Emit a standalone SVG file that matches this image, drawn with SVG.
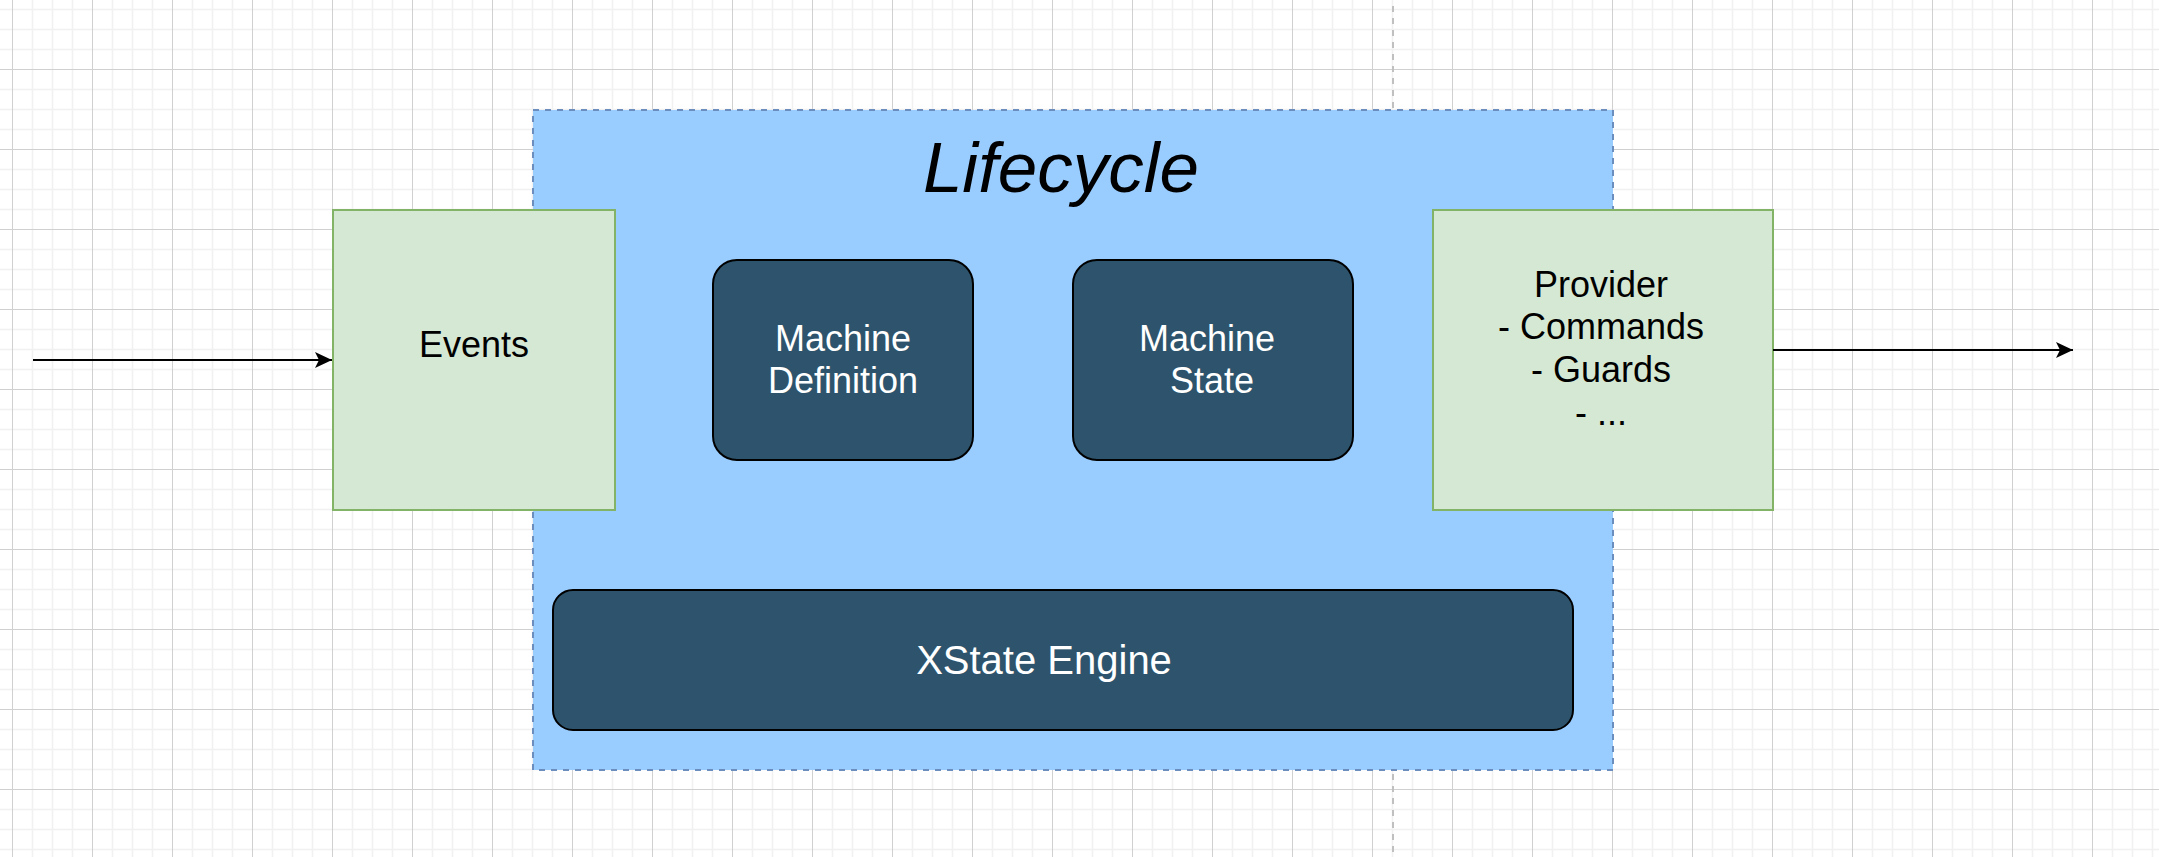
<svg xmlns="http://www.w3.org/2000/svg" width="2159" height="857" viewBox="0 0 2159 857">
  <defs>
    <pattern id="grid" patternUnits="userSpaceOnUse" x="12" y="-11" width="80" height="80">
      <rect width="80" height="80" fill="#ffffff"/>
      <path d="M20.5 0V80M40.5 0V80M60.5 0V80M0 20.5H80M0 40.5H80M0 60.5H80" stroke="#f1f1f1" stroke-width="1.5" fill="none"/>
      <path d="M0.5 0V80M0 0.5H80" stroke="#d0d0d0" stroke-width="1" fill="none"/>
    </pattern>
    <marker id="arrow" markerUnits="userSpaceOnUse" markerWidth="20" markerHeight="20" viewBox="0 0 20 20" refX="18" refY="10" orient="auto">
      <path d="M1 2 L18 10 L1 18 L5 10 Z" fill="#000000"/>
    </marker>
    <style>
      .txt { font-family: "Liberation Sans", Arial, sans-serif; text-anchor: middle; }
      .green { fill: #d5e8d4; stroke: #82b366; stroke-width: 2; }
      .dark { fill: #2d546c; stroke: #000000; stroke-width: 2; }
      .white { fill: #ffffff; font-size: 36px; }
      .black { fill: #000000; font-size: 36px; }
      .conn { stroke: #000000; stroke-width: 2; fill: none; marker-end: url(#arrow); }
    </style>
  </defs>
  <rect x="0" y="0" width="2159" height="857" fill="url(#grid)"/>
  <line x1="1393" y1="6" x2="1393" y2="857" stroke="#c0c0c0" stroke-width="2" stroke-dasharray="6 6"/>

  <g id="lifecycle">
    <rect x="533" y="110" width="1080" height="660" fill="#99ccff" stroke="#6c8ebf" stroke-width="2" stroke-dasharray="6 6"/>
    <text class="txt" x="1061" y="192" font-size="71" font-style="italic" fill="#000000">Lifecycle</text>
  </g>

  <g id="events">
    <rect class="green" x="333" y="210" width="282" height="300"/>
    <text class="txt black" x="474" y="357">Events</text>
  </g>

  <g id="machine-definition">
    <rect class="dark" x="713" y="260" width="260" height="200" rx="24" ry="24"/>
    <text class="txt white" x="843" y="351">Machine</text>
    <text class="txt white" x="843" y="393">Definition</text>
  </g>

  <g id="machine-state">
    <rect class="dark" x="1073" y="260" width="280" height="200" rx="24" ry="24"/>
    <text class="txt white" x="1207" y="351">Machine</text>
    <text class="txt white" x="1212" y="393">State</text>
  </g>

  <g id="provider">
    <rect class="green" x="1433" y="210" width="340" height="300"/>
    <text class="txt black" x="1601" y="297">Provider</text>
    <text class="txt black" x="1601" y="339">- Commands</text>
    <text class="txt black" x="1601" y="382">- Guards</text>
    <text class="txt black" x="1601" y="425">- ...</text>
  </g>

  <g id="xstate-engine">
    <rect class="dark" x="553" y="590" width="1020" height="140" rx="20" ry="20"/>
    <text class="txt white" x="1044" y="674" style="font-size:40px">XState Engine</text>
  </g>

  <g id="connectors">
    <line class="conn" x1="33" y1="360" x2="332" y2="360"/>
    <line class="conn" x1="1773" y1="350" x2="2073" y2="350"/>
  </g>
</svg>
